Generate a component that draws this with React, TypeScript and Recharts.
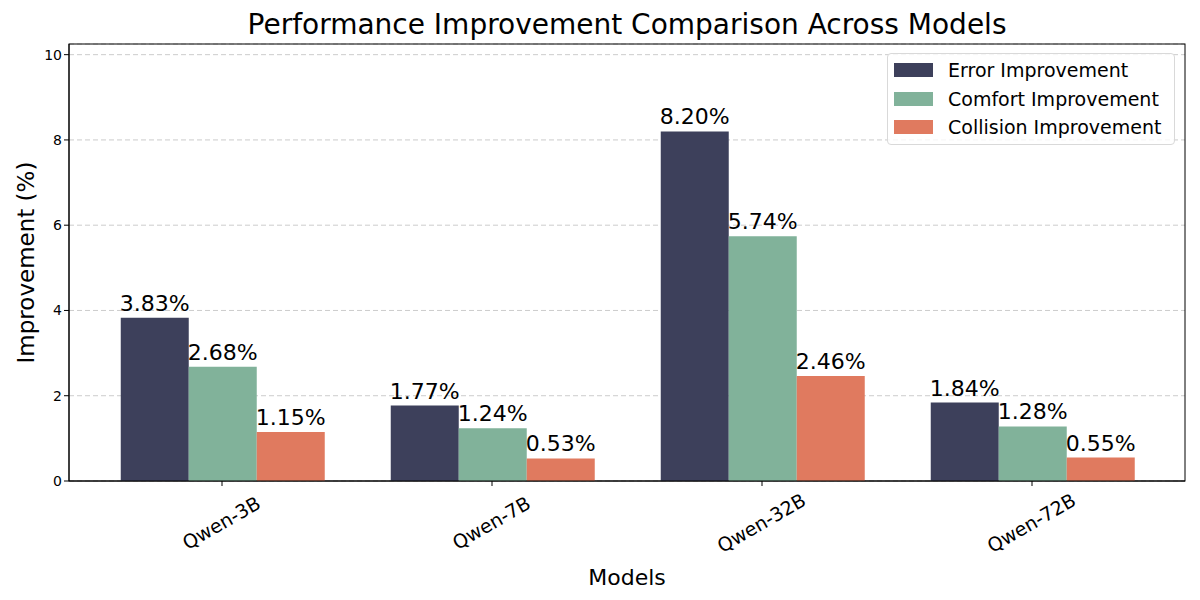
import { BarChart, Bar, XAxis, YAxis, CartesianGrid, LabelList } from 'recharts';

const models = ['Qwen-3B', 'Qwen-7B', 'Qwen-32B', 'Qwen-72B'];
const errorImp = [3.83, 1.77, 8.2, 1.84];
const comfortImp = [2.68, 1.24, 5.74, 1.28];
const collisionImp = [1.15, 0.53, 2.46, 0.55];
const yTicks = [0, 2, 4, 6, 8, 10];

const series = [
  { key: 'error', name: 'Error Improvement', color: '#3d405b' },
  { key: 'comfort', name: 'Comfort Improvement', color: '#81b29a' },
  { key: 'collision', name: 'Collision Improvement', color: '#e07a5f' },
];

const data = models.map((m, i) => ({
  model: m,
  error: errorImp[i],
  comfort: comfortImp[i],
  collision: collisionImp[i],
}));

const FONT = 'DejaVu Sans, sans-serif';

// eslint-disable-next-line @typescript-eslint/no-explicit-any
function XTick({ x, y, payload }: any) {
  return (
    <g transform={`translate(${x},${y + 36}) rotate(-30)`}>
      <text textAnchor="middle" dominantBaseline="middle" fontSize={19} fontFamily={FONT} fill="#000">
        {payload.value}
      </text>
    </g>
  );
}

function LegendBox() {
  return (
    <div
      style={{
        position: 'absolute',
        top: 53,
        left: 887,
        width: 288,
        boxSizing: 'border-box',
        border: '1px solid #d9d9d9',
        borderRadius: 4,
        background: 'rgba(255,255,255,0.8)',
        padding: '2px 6px 2px 6px',
        fontFamily: FONT,
        fontSize: 19,
        lineHeight: '28.5px',
      }}
    >
      {series.map((s) => (
        <div key={s.key} style={{ display: 'flex', alignItems: 'center' }}>
          <span style={{ width: 39, height: 14, background: s.color, display: 'inline-block', marginRight: 15 }} />
          <span style={{ whiteSpace: 'nowrap' }}>{s.name}</span>
        </div>
      ))}
    </div>
  );
}

export default function App() {
  return (
    <div style={{ position: 'absolute', left: 0, top: 0, width: 1200, height: 600, background: '#fff' }}>
      <div
        style={{
          position: 'absolute',
          top: 8,
          left: 69,
          width: 1116,
          textAlign: 'center',
          fontFamily: FONT,
          fontSize: 28,
        }}
      >
        Performance Improvement Comparison Across Models
      </div>
      <BarChart
        width={1200}
        height={600}
        data={data}
        margin={{ top: 44, right: 15, bottom: 0, left: 0 }}
        barCategoryGap="12.5%"
        barGap={0}
      >
        <XAxis
          dataKey="model"
          tick={<XTick />}
          height={119}
          padding={{ left: 18, right: 18 }}
          stroke="#000"
          tickLine={{ stroke: '#000' }}
          tickSize={5}
          label={{ value: 'Models', position: 'insideBottom', offset: 15, fontSize: 22, fontFamily: FONT, fill: '#000' }}
        />
        <YAxis
          width={69}
          domain={[0, 10.25]}
          ticks={yTicks}
          allowDataOverflow
          stroke="#000"
          tickSize={5}
          tick={{ fontSize: 14, fontFamily: FONT, fill: '#000' }}
          label={{
            value: 'Improvement (%)',
            angle: -90,
            position: 'insideLeft',
            offset: 26,
            style: { textAnchor: 'middle' },
            fontSize: 23,
            fontFamily: FONT,
            fill: '#000',
          }}
        />
        {series.map((s) => (
          <Bar key={s.key} dataKey={s.key} name={s.name} fill={s.color} isAnimationActive={false}>
            <LabelList
              dataKey={s.key}
              position="top"
              offset={7}
              formatter={(v: any) => `${Number(v).toFixed(2)}%`}
              style={{ fontSize: 22, fontFamily: FONT, fill: '#000' }}
            />
          </Bar>
        ))}
        <CartesianGrid vertical={false} strokeDasharray="5 3" stroke="#cccccc" />
        <rect x={69} y={44} width={1116} height={437} fill="none" stroke="#000" />
      </BarChart>
      <LegendBox />
    </div>
  );
}
